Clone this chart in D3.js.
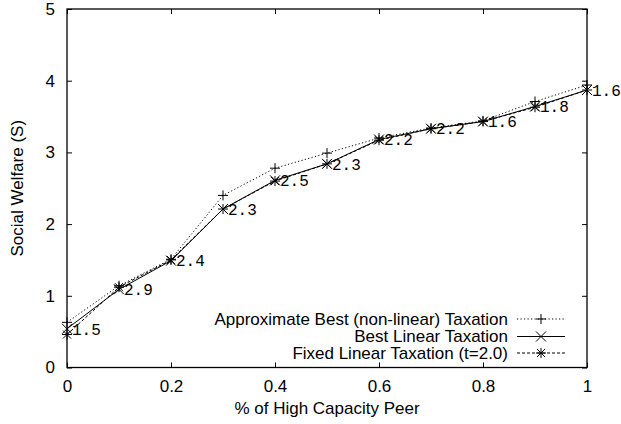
<!DOCTYPE html>
<html><head><meta charset="utf-8">
<script src="https://cdn.jsdelivr.net/npm/d3@7"></script>
<style>
html,body{margin:0;padding:0;background:#fff;}
svg{display:block;}
text{font-family:"Liberation Sans",Arial,sans-serif;fill:#000;}
</style></head>
<body>
<svg id="chart" width="621" height="424"></svg>
<script>
const xValues = [0, 0.1, 0.2, 0.3, 0.4, 0.5, 0.6, 0.7, 0.8, 0.9, 1.0];
const approxBest = [0.63, 1.14, 1.51, 2.40, 2.78, 2.99, 3.20, 3.34, 3.44, 3.71, 3.94];
const bestLinear = [0.54, 1.09, 1.49, 2.21, 2.61, 2.84, 3.18, 3.33, 3.43, 3.64, 3.87];
const fixedLinear = [0.46, 1.12, 1.50, 2.21, 2.60, 2.84, 3.17, 3.33, 3.43, 3.63, 3.87];
const taxLabels = ["1.5", "2.9", "2.4", "2.3", "2.5", "2.3", "2.2", "2.2", "1.6", "1.8", "1.6"];
const xTicks = [0, 0.2, 0.4, 0.6, 0.8, 1];
const xTickLabels = ["0", "0.2", "0.4", "0.6", "0.8", "1"];
const yTicks = [0, 1, 2, 3, 4, 5];
const seriesNames = ["Approximate Best (non-linear) Taxation", "Best Linear Taxation", "Fixed Linear Taxation (t=2.0)"];

const svg = d3.select("#chart");
const L = 67, R = 587, T = 9, B = 367.5;
const FS = 17;
const x = d3.scaleLinear().domain([0, 1]).range([L, R]);
const y = d3.scaleLinear().domain([0, 5]).range([B, T]);

// frame
svg.append("rect").attr("x", L).attr("y", T).attr("width", R - L).attr("height", B - T)
  .attr("fill", "none").attr("stroke", "#000").attr("stroke-width", 1.3);

// axes with inward ticks
const tickLen = 5;
const gx = svg.append("g").attr("transform", `translate(0,${B})`)
  .call(d3.axisBottom(x).tickValues(xTicks).tickFormat((d, i) => xTickLabels[i]).tickSizeInner(-tickLen).tickSizeOuter(0).tickPadding(12));
const gxt = svg.append("g").attr("transform", `translate(0,${T})`)
  .call(d3.axisTop(x).tickValues(xTicks).tickFormat("").tickSizeInner(-tickLen).tickSizeOuter(0));
const gy = svg.append("g").attr("transform", `translate(${L},0)`)
  .call(d3.axisLeft(y).tickValues(yTicks).tickFormat(d3.format("d")).tickSizeInner(-tickLen).tickSizeOuter(0).tickPadding(12));
const gyr = svg.append("g").attr("transform", `translate(${R},0)`)
  .call(d3.axisRight(y).tickValues(yTicks).tickFormat("").tickSizeInner(-tickLen).tickSizeOuter(0));
[gx, gxt, gy, gyr].forEach(g => {
  g.select(".domain").remove();
  g.selectAll(".tick line").attr("stroke", "#000");
  g.selectAll("text").attr("font-family", "Liberation Sans, Arial, sans-serif").attr("font-size", FS).attr("fill", "#000");
});

// axis titles
svg.append("text").attr("x", (L + R) / 2).attr("y", 414).attr("text-anchor", "middle").attr("font-size", FS)
  .text("% of High Capacity Peer");
svg.append("text").attr("transform", `translate(23,${(T + B) / 2}) rotate(-90)`).attr("text-anchor", "middle").attr("font-size", FS)
  .text("Social Welfare (S)");

// markers
function plus(g, cx, cy, s) {
  g.append("path").attr("d", `M${cx - s},${cy}H${cx + s}M${cx},${cy - s}V${cy + s}`).attr("stroke", "#000").attr("fill", "none");
}
function cross(g, cx, cy, s) {
  g.append("path").attr("d", `M${cx - s},${cy - s}L${cx + s},${cy + s}M${cx - s},${cy + s}L${cx + s},${cy - s}`).attr("stroke", "#000").attr("fill", "none");
}
function star(g, cx, cy, s) { plus(g, cx, cy, s); cross(g, cx, cy, s * 0.8); }

const series = [
  { vals: approxBest, dash: "1.2,2.3", marker: plus },
  { vals: bestLinear, dash: null, marker: cross },
  { vals: fixedLinear, dash: "3,2", marker: star }
];
const line = d3.line().x(d => x(d[0])).y(d => y(d[1]));
const plot = svg.append("g");
series.forEach(s => {
  const pts = xValues.map((v, i) => [v, s.vals[i]]);
  const p = plot.append("path").datum(pts).attr("d", line).attr("fill", "none").attr("stroke", "#000").attr("stroke-width", 1);
  if (s.dash) p.attr("stroke-dasharray", s.dash);
  const mg = plot.append("g");
  pts.forEach(d => s.marker(mg, x(d[0]), y(d[1]), 5));
});

// tax labels
plot.selectAll("text.lab").data(xValues).enter().append("text")
  .attr("class", "lab").attr("x", d => x(d) + 5).attr("y", (d, i) => y(bestLinear[i]))
  .attr("dy", "0.36em").attr("font-size", 16).attr("fill", "#222")
  .style("font-family", "Liberation Mono, DejaVu Sans Mono, monospace")
  .text((d, i) => taxLabels[i]);

// legend
const lg = svg.append("g");
const legY = [319, 336.5, 353];
seriesNames.forEach((name, i) => {
  lg.append("text").attr("x", 508).attr("y", legY[i]).attr("dy", "0.35em").attr("text-anchor", "end").attr("font-size", FS).text(name);
  const ln = lg.append("line").attr("x1", 517).attr("x2", 565).attr("y1", legY[i]).attr("y2", legY[i]).attr("stroke", "#000");
  if (series[i].dash) ln.attr("stroke-dasharray", series[i].dash);
  series[i].marker(lg, 541, legY[i], 5);
});
</script>
</body></html>
